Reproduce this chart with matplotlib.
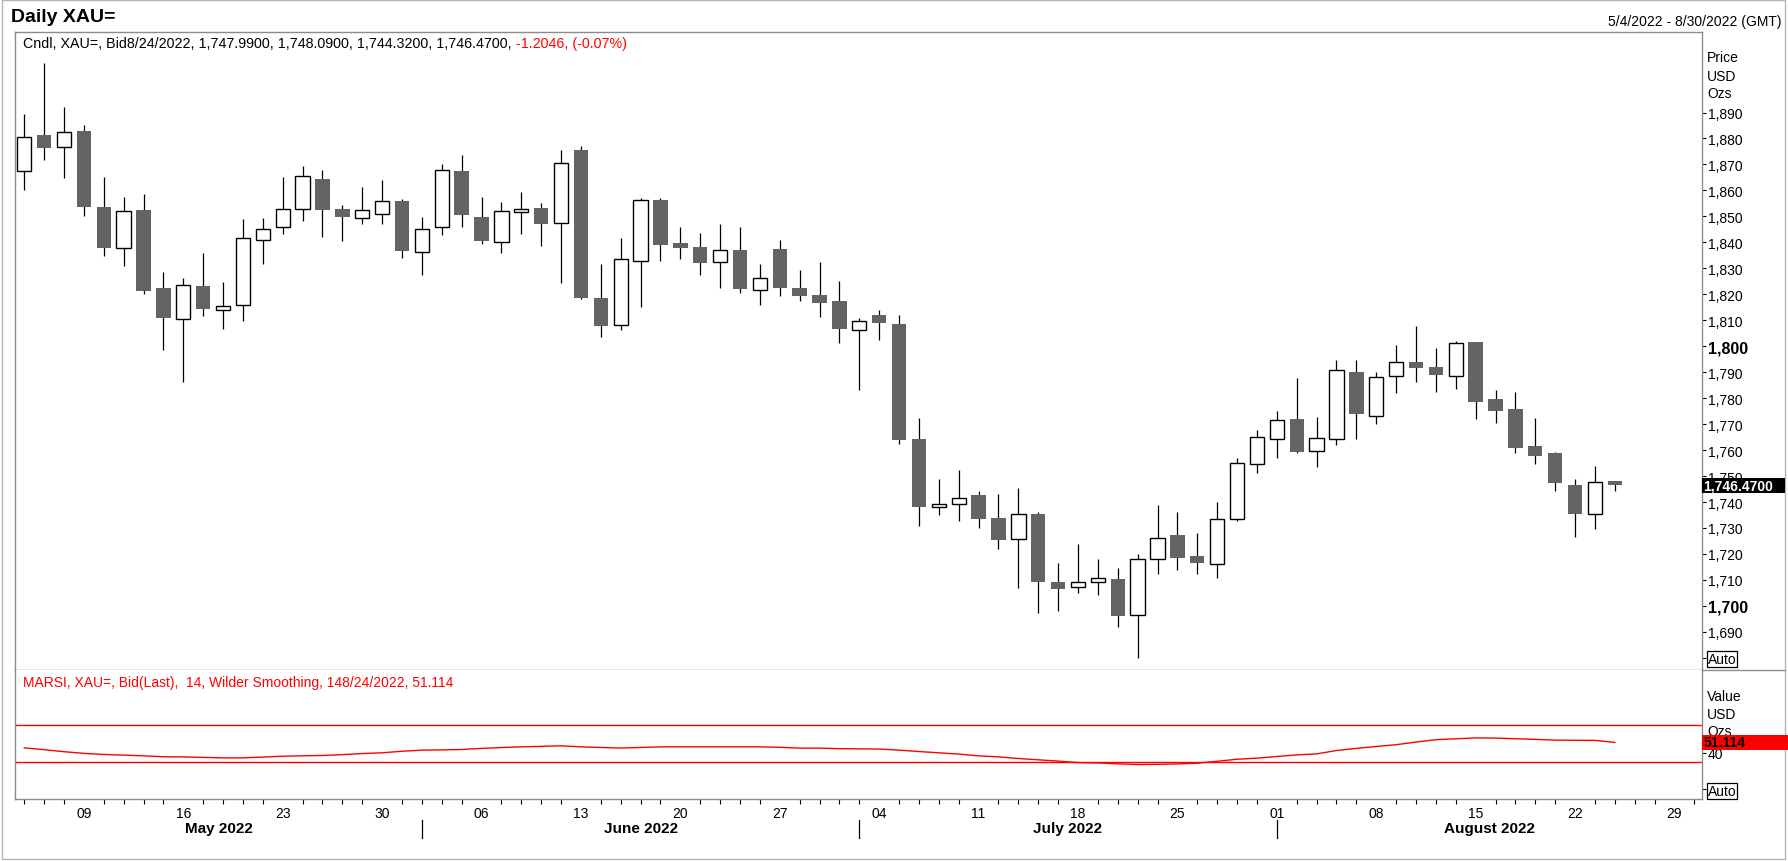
##############################################
##   Daily XAU= candlestick chart with RSI   ##
##############################################

import numpy as np
import pandas as pd
import matplotlib
matplotlib.use('Agg')
import matplotlib.pyplot as plt
import matplotlib.transforms as mtransforms
from matplotlib.patches import Rectangle

plt.rcParams['font.family'] = ['Liberation Sans', 'DejaVu Sans']

# Data #
#############################

start_date = '2022-05-04'
last_date = '2022-08-24'
axis_end_date = '2022-08-30'

opens = [1867.6, 1881.2, 1876.9, 1882.8, 1853.5, 1838.0, 1852.4, 1822.3, 1810.6, 1823.1,
         1814.1, 1815.9, 1841.0, 1846.1, 1853.0, 1864.3, 1852.7, 1849.2, 1850.8, 1855.8,
         1836.1, 1846.1, 1867.4, 1849.7, 1840.3, 1851.6, 1853.1, 1847.6, 1875.5, 1818.5,
         1808.0, 1833.0, 1856.2, 1839.6, 1838.1, 1832.6, 1837.0, 1821.7, 1837.3, 1822.3,
         1819.6, 1817.3, 1806.4, 1811.9, 1808.5, 1764.2, 1737.9, 1739.4, 1742.6, 1733.8,
         1725.7, 1735.3, 1709.1, 1707.4, 1709.0, 1710.3, 1696.3, 1718.2, 1727.2, 1719.1,
         1716.2, 1733.3, 1754.8, 1764.4, 1771.9, 1759.8, 1764.4, 1790.0, 1773.3, 1788.7,
         1793.8, 1791.9, 1788.7, 1801.5, 1779.6, 1775.7, 1761.5, 1758.8, 1746.5, 1735.2,
         1747.99]
highs = [1889.3, 1909.2, 1892.3, 1885.3, 1865.1, 1857.4, 1858.5, 1828.5, 1826.4, 1835.8,
         1824.6, 1848.9, 1849.2, 1865.1, 1869.3, 1867.8, 1854.3, 1861.5, 1863.9, 1856.8,
         1849.7, 1870.1, 1873.5, 1857.4, 1855.4, 1859.3, 1855.1, 1875.5, 1877.0, 1831.6,
         1841.6, 1857.2, 1857.2, 1846.0, 1843.5, 1847.0, 1846.0, 1831.6, 1840.8, 1829.3,
         1832.3, 1825.0, 1811.0, 1813.9, 1811.9, 1772.5, 1748.8, 1752.2, 1744.2, 1743.0,
         1745.3, 1736.0, 1716.4, 1723.7, 1718.0, 1714.5, 1719.8, 1738.8, 1736.1, 1728.0,
         1739.9, 1756.9, 1767.6, 1775.0, 1787.7, 1772.6, 1794.6, 1794.6, 1790.0, 1800.4,
         1807.7, 1799.2, 1802.2, 1801.8, 1783.0, 1782.3, 1772.3, 1759.1, 1748.8, 1753.8,
         1748.09]
lows = [1860.2, 1871.7, 1864.8, 1850.2, 1834.8, 1830.9, 1820.0, 1798.6, 1786.2, 1811.7,
        1806.8, 1809.7, 1831.7, 1843.2, 1848.2, 1842.1, 1840.5, 1847.1, 1847.1, 1834.0,
        1827.5, 1842.9, 1845.9, 1839.4, 1835.9, 1843.2, 1838.6, 1824.4, 1818.1, 1803.6,
        1806.3, 1815.1, 1832.8, 1833.6, 1827.5, 1822.4, 1820.5, 1815.9, 1819.4, 1817.4,
        1811.3, 1801.3, 1783.2, 1802.4, 1762.4, 1730.8, 1735.0, 1732.7, 1730.0, 1721.8,
        1706.9, 1697.1, 1698.1, 1705.0, 1704.2, 1691.9, 1680.0, 1712.3, 1713.9, 1712.3,
        1710.8, 1732.7, 1751.2, 1757.0, 1758.9, 1753.5, 1762.0, 1764.3, 1770.1, 1782.0,
        1786.2, 1782.4, 1783.5, 1772.0, 1770.5, 1758.9, 1754.7, 1744.3, 1726.6, 1729.6,
        1744.32]
closes = [1880.7, 1876.4, 1882.6, 1853.6, 1837.8, 1851.9, 1821.3, 1810.9, 1823.7, 1814.4,
          1815.4, 1841.5, 1845.3, 1853.0, 1865.7, 1852.5, 1849.8, 1852.6, 1856.1, 1836.7,
          1845.3, 1868.0, 1850.6, 1840.6, 1851.9, 1853.0, 1847.1, 1870.7, 1818.6, 1807.8,
          1833.4, 1856.4, 1838.9, 1837.8, 1832.1, 1837.2, 1821.9, 1826.1, 1822.3, 1819.4,
          1816.7, 1806.7, 1809.9, 1809.0, 1763.9, 1738.1, 1739.4, 1741.7, 1733.5, 1725.4,
          1735.2, 1709.2, 1706.5, 1709.0, 1710.9, 1696.1, 1718.2, 1726.3, 1718.5, 1716.5,
          1733.6, 1755.2, 1765.2, 1771.4, 1759.3, 1764.8, 1791.0, 1773.9, 1788.3, 1794.1,
          1791.6, 1788.9, 1801.4, 1778.5, 1775.1, 1760.8, 1757.7, 1747.3, 1735.4, 1747.67,
          1746.47]

rsi = [45.2, 43.2, 41.0, 39.2, 38.0, 37.3, 36.5, 35.5, 35.4, 34.8,
       34.3, 34.3, 35.2, 36.1, 36.5, 36.9, 37.8, 39.0, 39.8, 41.5,
       42.7, 43.0, 43.4, 44.6, 45.5, 46.3, 46.8, 47.4, 46.3, 45.6,
       45.0, 45.6, 46.3, 46.3, 46.3, 46.3, 46.3, 46.3, 45.8, 44.9,
       44.9, 44.3, 44.1, 43.9, 42.7, 41.2, 39.8, 38.4, 36.5, 35.4,
       33.6, 32.2, 30.8, 29.2, 28.8, 27.8, 27.1, 27.3, 27.7, 28.5,
       30.6, 32.8, 34.0, 35.8, 37.5, 38.6, 42.3, 44.6, 46.7, 48.6,
       51.5, 54.0, 55.0, 56.0, 55.8, 55.1, 54.4, 53.6, 53.4, 53.3,
       51.114]

rsi_levels = [70, 30]
price_ticks = list(range(1690, 1900, 10))
price_bold_ticks = [1700, 1800]
price_auto_tick = 1680
rsi_ticks = [40]
rsi_auto_tick = 0

title = 'Daily XAU='
date_range_text = '5/4/2022 - 8/30/2022 (GMT)'
price_header = 'Cndl, XAU=, Bid8/24/2022, 1,747.9900, 1,748.0900, 1,744.3200, 1,746.4700,'
price_header_change = '-1.2046, (-0.07%)'
rsi_header = 'MARSI, XAU=, Bid(Last),  14, Wilder Smoothing, 148/24/2022, 51.114'

# ----------------------------------------------------#

W, H = 1788, 862
fig = plt.figure(figsize=(W / 100, H / 100), dpi=100)
fig.patch.set_facecolor('white')


def fx(px):
    return px / W


def fy(py):
    return 1 - py / H


pane_left, pane_right = 15.3, 1701.5
price_top, price_bottom, rsi_bottom = 33.3, 671, 800

ax1 = fig.add_axes([fx(pane_left), fy(price_bottom), fx(pane_right - pane_left),
                    (price_bottom - price_top) / H])
ax2 = fig.add_axes([fx(pane_left), fy(rsi_bottom), fx(pane_right - pane_left),
                    (rsi_bottom - price_bottom) / H], sharex=ax1)

spine_color = '#8c8c8c'
for ax in (ax1, ax2):
    for s in ax.spines.values():
        s.set_color(spine_color)
        s.set_linewidth(1.0)
ax2.spines['top'].set_visible(False)

trade_days = pd.bdate_range(start_date, last_date)
axis_days = pd.bdate_range(start_date, axis_end_date)
x = np.arange(len(trade_days))

# Candles #
###########
o = np.array(opens)
h = np.array(highs)
l = np.array(lows)
c = np.array(closes)
up = c >= o

ax1.vlines(x, l, h, color='black', lw=0.9, zorder=2)
ax1.bar(x[up], (c - o)[up], bottom=o[up], width=0.72, facecolor='white',
        edgecolor='black', lw=1.0, zorder=3)
ax1.bar(x[~up], (o - c)[~up], bottom=c[~up], width=0.72, color='#646464',
        lw=0, zorder=3)

ax1.set_ylim(1675.3, 1920.9)
ax1.set_xlim(-0.45, len(axis_days) - 1 + 0.36)

# RSI #
#######
ax2.plot(x, rsi, color='red', lw=1.0, zorder=3)
for lev in rsi_levels:
    ax2.axhline(lev, color='red', lw=1.0, zorder=2)
ax2.set_ylim(-10.4, 129.8)

# Y axes on the right #
#######################
ax1.yaxis.tick_right()
ax1.set_yticks([price_auto_tick] + price_ticks)
ax1.set_yticklabels(['Auto'] + [f'{v:,}' for v in price_ticks])
ax2.yaxis.tick_right()
ax2.set_yticks([rsi_auto_tick] + rsi_ticks)
ax2.set_yticklabels(['Auto'] + [str(v) for v in rsi_ticks])

for ax in (ax1, ax2):
    ax.tick_params(axis='y', direction='out', length=3, width=0.8, pad=1.5,
                   labelsize=10, colors='black')
    for lbl in ax.get_yticklabels():
        if lbl.get_text() == 'Auto':
            lbl.set_bbox(dict(facecolor='white', edgecolor='black', lw=0.9, pad=0.6))

for lbl, v in zip(ax1.get_yticklabels(), [price_auto_tick] + price_ticks):
    if v in price_bold_ticks:
        lbl.set_fontweight('bold')
        lbl.set_fontsize(11.5)

# X axis: daily ticks, Monday labels, months #
##############################################
mondays = [i for i, d in enumerate(axis_days) if d.weekday() == 0]
other_days = [i for i, d in enumerate(axis_days) if d.weekday() != 0]
ax2.set_xticks(mondays)
ax2.set_xticklabels([axis_days[i].strftime('%d') for i in mondays])
ax2.set_xticks(other_days, minor=True)
ax2.tick_params(axis='x', which='major', length=0, pad=5, labelsize=10)
ax2.tick_params(axis='x', which='minor', length=3.5, width=0.8, color='black')
ax1.tick_params(axis='x', which='both', bottom=False, labelbottom=False)

month_starts = [i for i in range(1, len(axis_days))
                if axis_days[i].month != axis_days[i - 1].month]
xlo, xhi = ax2.get_xlim()
edges = [xlo] + month_starts + [xhi]
label_days = [0] + month_starts
bt = mtransforms.blended_transform_factory(ax2.transData, ax2.transAxes)
for m in month_starts:
    ax2.plot([m, m], [-0.161, -0.304], color='black', lw=0.9, transform=bt, clip_on=False)
for k, d in enumerate(label_days):
    ax2.text((edges[k] + edges[k + 1]) / 2, -0.222, axis_days[d].strftime('%B %Y'),
             transform=bt, ha='center', va='center', fontsize=11, fontweight='bold')

# Texts #
#########
fig.text(fx(10.7), fy(18), title, fontsize=14, fontweight='bold', va='center', ha='left')
fig.text(fx(1782), fy(21.7), date_range_text, fontsize=10, va='center', ha='right')
t1 = fig.text(fx(23), fy(44), price_header, fontsize=10.3, va='center', ha='left')
ax1.annotate(price_header_change, xy=(1, 0.5), xycoords=t1, xytext=(2.9, 0),
             textcoords='offset points', fontsize=10.3, color='red', va='center', ha='left')
fig.text(fx(23), fy(682.8), rsi_header, fontsize=10, color='red', va='center', ha='left')

for txt, py in zip(['Price', 'USD', 'Ozs'], [58.3, 76.7, 94.3]):
    fig.text(fx(1707), fy(py), txt, fontsize=10, va='center', ha='left')
for txt, py in zip(['Value', 'USD', 'Ozs'], [696.7, 714.7, 732.0]):
    fig.text(fx(1707), fy(py), txt, fontsize=10, va='center', ha='left')

# Last value boxes #
####################
ident = mtransforms.IdentityTransform()
y_last = ax1.transData.transform((0, closes[-1]))[1]
fig.patches.append(Rectangle((pane_right, y_last - 7.5), 83.5, 15, transform=ident,
                             facecolor='black', edgecolor='none', zorder=5))
fig.text(fx(1703.5), y_last / H, f'{closes[-1]:,.4f}', fontsize=10, fontweight='bold',
         color='white', va='center', ha='left', zorder=6)

y_rsi = ax2.transData.transform((0, rsi[-1]))[1]
fig.patches.append(Rectangle((pane_right, y_rsi - 7.8), W - pane_right, 15.6, transform=ident,
                             facecolor='red', edgecolor='none', zorder=5))
fig.text(fx(1703.5), y_rsi / H, f'{rsi[-1]:.3f}', fontsize=10, fontweight='bold',
         color='black', va='center', ha='left', zorder=6)

# Frame lines #
###############
fig.lines.append(plt.Line2D([fx(pane_right), fx(1785)], [fy(price_bottom), fy(price_bottom)],
                            transform=fig.transFigure, color=spine_color, lw=1.0))
fig.patches.append(Rectangle((fx(2), fy(860)), fx(1783), (859) / H, transform=fig.transFigure,
                             fill=False, edgecolor='#b4b4b4', lw=1.0))

fig.savefig('out.png', dpi=100, facecolor='white')
